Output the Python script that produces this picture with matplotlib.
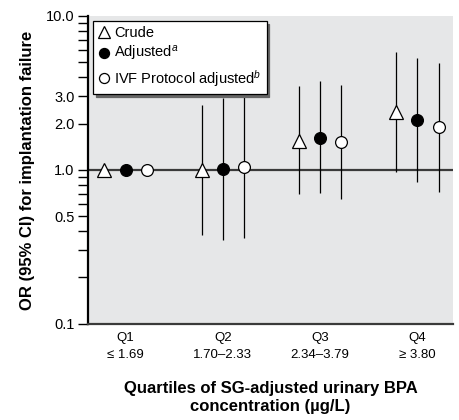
import matplotlib.pyplot as plt
from matplotlib import font_manager
import numpy as np

# Data
quartiles = ['Q1\n\u2264 1.69', 'Q2\n1.70\u20132.33', 'Q3\n2.34\u20133.79', 'Q4\n\u2265 3.80']
crude = [1.0, 1.00, 1.55, 2.37]
crude_lo = [1.0, 0.38, 0.70, 0.97]
crude_hi = [1.0, 2.64, 3.51, 5.81]
adj = [1.0, 1.02, 1.60, 2.11]
adj_lo = [1.0, 0.35, 0.71, 0.84]
adj_hi = [1.0, 2.92, 3.78, 5.31]
ivf = [1.0, 1.05, 1.51, 1.89]
ivf_lo = [1.0, 0.36, 0.65, 0.72]
ivf_hi = [1.0, 3.02, 3.56, 4.93]

names = [f.name for f in font_manager.fontManager.ttflist]
fam = 'Liberation Sans Narrow' if 'Liberation Sans Narrow' in names else 'Liberation Sans'
plt.rcParams['font.family'] = [fam, 'DejaVu Sans']
plt.rcParams['mathtext.fontset'] = 'custom'
plt.rcParams['mathtext.it'] = fam + ':italic'
plt.rcParams['mathtext.rm'] = fam

fig = plt.figure(figsize=(4.6, 4.2), dpi=100)
ax = fig.add_axes([0.191, 0.229, 0.794, 0.733])
ax.set_facecolor('#e6e7e8')

x = np.arange(1, 5)
off = 0.22

ax.axhline(1.0, color='#3a3a3a', lw=1.6, zorder=1)

def draw(xs, y, lo, hi, **kw):
    y = np.array(y)
    err = [y - np.array(lo), np.array(hi) - y]
    ax.errorbar(xs, y, yerr=err, fmt='none', ecolor='black', elinewidth=0.9, zorder=2)
    return ax.plot(xs, y, ls='none', mec='black', mew=0.9, zorder=3, **kw)[0]

h1 = draw(x - off, crude, crude_lo, crude_hi, marker='^', ms=10, mfc='white')
h2 = draw(x, adj, adj_lo, adj_hi, marker='o', ms=8.5, mfc='black')
h3 = draw(x + off, ivf, ivf_lo, ivf_hi, marker='o', ms=8.5, mfc='white')

ax.set_yscale('log')
ax.set_ylim(0.1, 10)
ax.set_xlim(0.61, 4.37)
ax.set_yticks([0.1, 0.5, 1.0, 2.0, 3.0, 10.0])
ax.set_yticklabels(['0.1', '0.5', '1.0', '2.0', '3.0', '10.0'])
ax.set_yticks([0.2, 0.3, 0.4, 0.6, 0.7, 0.8, 0.9, 4, 5, 6, 7, 8, 9], minor=True)
ax.yaxis.set_minor_formatter(plt.NullFormatter())
ax.tick_params(axis='y', which='both', direction='out', length=7.5, width=1, labelsize=10.5, pad=2)
ax.set_xticks(x)
ax.set_xticklabels(quartiles, fontsize=9.5, linespacing=1.5)
ax.tick_params(axis='x', length=0, pad=6)

for s in ['top', 'right']:
    ax.spines[s].set_visible(False)
ax.spines['left'].set_linewidth(1.6)
ax.spines['bottom'].set_linewidth(1.6)
ax.spines['bottom'].set_color('#3a3a3a')

ax.set_ylabel('OR (95% CI) for implantation failure', fontsize=12, fontweight='bold', labelpad=8)
ax.set_xlabel('Quartiles of SG-adjusted urinary BPA\nconcentration (\u00b5g/L)', fontsize=12,
              fontweight='bold', labelpad=15, linespacing=1.25)

leg = ax.legend([h1, h2, h3], ['Crude', 'Adjusted$^{a}$', 'IVF Protocol adjusted$^{b}$'],
                loc='upper left', bbox_to_anchor=(0.014, 0.984), borderaxespad=0,
                fancybox=False, shadow={'color': '#666666', 'alpha': 1}, framealpha=1,
                edgecolor='black', fontsize=10.5, handlelength=0.8, handletextpad=0.3,
                borderpad=0.35, labelspacing=0.3, markerscale=0.85)
leg.get_frame().set_linewidth(0.9)
leg.set_zorder(5)

fig.savefig('out.png', dpi=100)
